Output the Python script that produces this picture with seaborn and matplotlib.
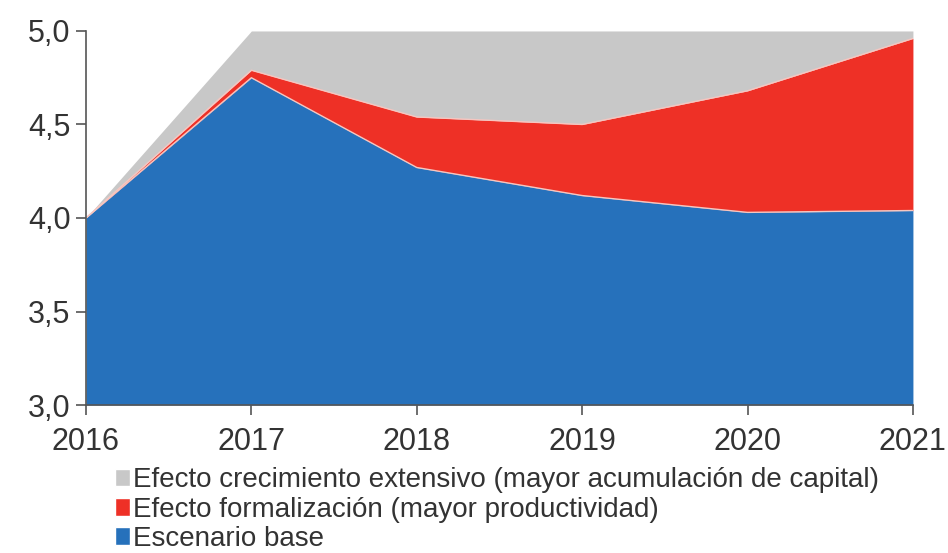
import matplotlib
matplotlib.use("Agg")
import matplotlib.pyplot as plt
from matplotlib.patches import Patch
from matplotlib.ticker import FuncFormatter
import numpy as np
import pandas as pd
import seaborn as sns

years = [2016, 2017, 2018, 2019, 2020, 2021]
base = [4.00, 4.75, 4.27, 4.12, 4.03, 4.04]
formalizacion = [0.00, 0.04, 0.27, 0.38, 0.65, 0.92]
extensivo = [0.00, 0.21, 0.46, 0.50, 0.32, 0.04]

labels = [
    "Efecto crecimiento extensivo (mayor acumulación de capital)",
    "Efecto formalización (mayor productividad)",
    "Escenario base",
]
colors = {"base": "#2671bb", "form": "#ee3026", "ext": "#c8c8c8"}

df = pd.DataFrame({"year": years, "base": base,
                   "form": formalizacion, "ext": extensivo})
df["top_base"] = df["base"]
df["top_form"] = df["top_base"] + df["form"]
df["top_ext"] = df["top_form"] + df["ext"]

sns.set_style("white")
plt.rcParams["font.family"] = ["Liberation Sans", "DejaVu Sans"]

fig = plt.figure(figsize=(9.48, 5.53), dpi=100)
ax = fig.add_axes([0.0907, 0.2676, 0.8723, 0.6764])

floor = 3.0
ax.fill_between(df["year"], df["top_form"], df["top_ext"], color=colors["ext"], lw=0)
ax.fill_between(df["year"], df["top_base"], df["top_form"], color=colors["form"], lw=0)
ax.fill_between(df["year"], floor, df["top_base"], color=colors["base"], lw=0)

# pale seams between the stacked layers
for col in ["top_base", "top_form"]:
    sns.lineplot(data=df, x="year", y=col, ax=ax, color="#f6c6c0", lw=1.0)

ax.set_xlim(2016, 2021)
ax.set_ylim(3.0, 5.0)
ax.set_xticks(years)
ax.set_yticks([3.0, 3.5, 4.0, 4.5, 5.0])
ax.yaxis.set_major_formatter(FuncFormatter(lambda v, p: f"{v:.1f}".replace(".", ",")))
ax.set_xlabel("")
ax.set_ylabel("")

for side in ["top", "right"]:
    ax.spines[side].set_visible(False)
for side in ["left", "bottom"]:
    ax.spines[side].set_color("#555555")
    ax.spines[side].set_linewidth(1.2)
ax.tick_params(axis="both", which="major", direction="out", length=7, width=1.2,
               color="#555555", labelsize=22, labelcolor="#333333", pad=4,
               left=True, bottom=True)
ax.tick_params(axis="x", pad=9)

handles = [Patch(facecolor=colors["ext"]), Patch(facecolor=colors["form"]),
           Patch(facecolor=colors["base"])]
fig.legend(handles, labels, loc="upper left", bbox_to_anchor=(0.121, 0.155),
           frameon=False, fontsize=20, labelcolor="#333333",
           handlelength=0.55, handleheight=0.6, handletextpad=0.12,
           labelspacing=0.12, borderpad=0, borderaxespad=0)

fig.savefig("out.png", dpi=100)
